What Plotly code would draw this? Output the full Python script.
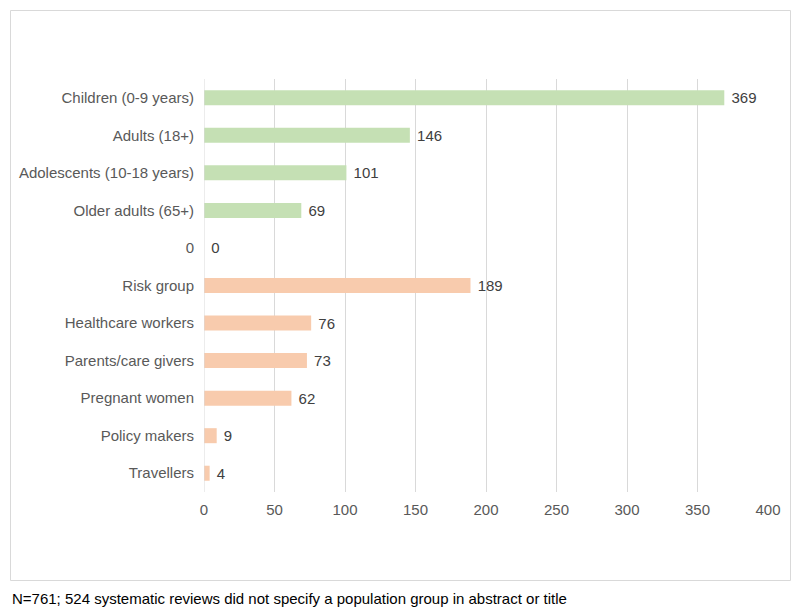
import plotly.graph_objects as go

categories = ["Children (0-9 years)", "Adults (18+)", "Adolescents (10-18 years)", "Older adults (65+)", "0",
              "Risk group", "Healthcare workers", "Parents/care givers", "Pregnant women", "Policy makers", "Travellers"]
values = [369, 146, 101, 69, 0, 189, 76, 73, 62, 9, 4]
groups = ["age", "age", "age", "age", "age", "other", "other", "other", "other", "other", "other"]
tick_vals = [0, 50, 100, 150, 200, 250, 300, 350, 400]
footnote = "N=761; 524 systematic reviews did not specify a population group in abstract or title"

colors = {"age": "#C5E0B4", "other": "#F8CBAD"}

OFF = 8  # page body margin
W, H = 800 - OFF, 616 - OFF
L, R, T, B = 204 - OFF, 768 - OFF, 79 - OFF, 492 - OFF

fig = go.Figure(go.Bar(
    x=values, y=categories, orientation="h",
    marker=dict(color=[colors[g] for g in groups], line=dict(width=0)),
    width=0.4,
    text=[" " + str(v) for v in values], textposition="outside",
    constraintext="none",
    textfont=dict(family="Liberation Sans, Arial", size=15, color="#404040"),
    cliponaxis=False,
))

def px_x(p):
    return (p - OFF - L) / (R - L)

def px_y(p):
    return (B - (p - OFF)) / (B - T)

fig.update_layout(
    width=W, height=H,
    margin=dict(l=L, r=W - R, t=T, b=H - B),
    paper_bgcolor="white", plot_bgcolor="white",
    showlegend=False,
    font=dict(family="Liberation Sans, Arial", size=15, color="#595959"),
    xaxis=dict(range=[0, 400], tickvals=tick_vals, showgrid=True, gridcolor="#D9D9D9", gridwidth=1,
               zeroline=False, showline=False, ticks="outside", ticklen=4, tickcolor="rgba(0,0,0,0)",
               tickfont=dict(size=15, color="#595959")),
    yaxis=dict(type="category", autorange="reversed", showgrid=False, zeroline=False,
               ticks="outside", ticklen=6, tickcolor="rgba(0,0,0,0)", tickfont=dict(size=15, color="#595959")),
    shapes=[
        dict(type="line", xref="x", yref="paper", x0=0, x1=0, y0=0, y1=1, line=dict(color="#D9D9D9", width=1)),
        dict(type="rect", xref="paper", yref="paper", x0=px_x(10.5), x1=px_x(790.5), y0=px_y(580.5), y1=px_y(10.5),
             line=dict(color="#D9D9D9", width=1), fillcolor="rgba(0,0,0,0)", layer="below"),
    ],
    annotations=[dict(text=footnote, xref="paper", yref="paper", x=px_x(10), y=px_y(598),
                      xanchor="left", yanchor="middle", showarrow=False,
                      font=dict(family="Liberation Sans Narrow, Liberation Sans, Arial", size=15, color="#000000"))],
)
fig.update_xaxes(tickangle=0)

fig.write_html("out.html")
